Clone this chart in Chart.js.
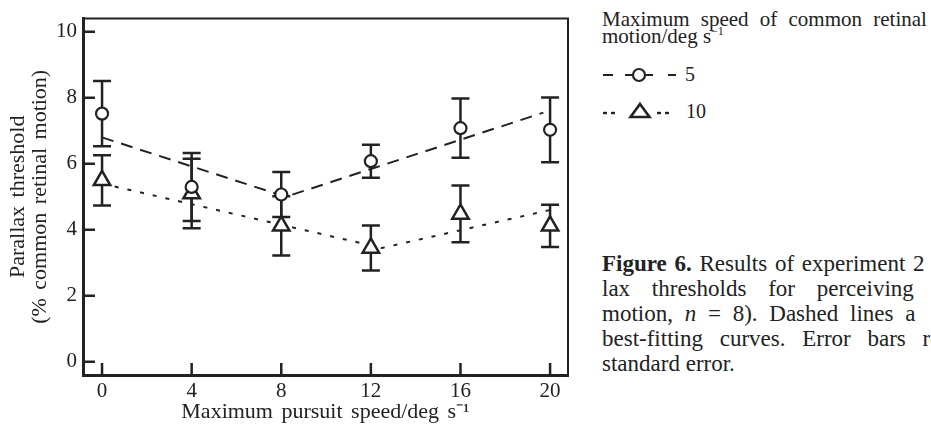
<!DOCTYPE html>
<html>
<head>
<meta charset="utf-8">
<script src="https://cdn.jsdelivr.net/npm/chart.js@4.4.1/dist/chart.umd.min.js"></script>
<style>
  html, body { margin: 0; padding: 0; background: #fff; width: 931px; height: 424px; overflow: hidden; }
  #wrap { position: absolute; left: 0; top: 0; width: 590px; height: 424px; }
  .txt { position: absolute; font-family: "Liberation Serif", "Times New Roman", serif; color: #222; white-space: nowrap; }
  .txt sup { font-size: 12px; vertical-align: 8px; line-height: 0; }
  .cap { left: 602px; font-size: 23px; line-height: 25px; }
</style>
</head>
<body>
<div id="wrap"><canvas id="myChart" width="590" height="424"></canvas></div>

<!-- legend -->
<div class="txt" style="left:602px; top:11px; font-size:21px; line-height:17px;">
  <span style="word-spacing:6px">Maximum speed of common retinal</span><br>motion/deg s<sup>&minus;1</sup>
</div>
<svg style="position:absolute; left:600px; top:65px;" width="82" height="20">
  <line x1="3" y1="10" x2="77" y2="10" stroke="#222" stroke-width="2.2" stroke-dasharray="10 12 28 15 8"/>
  <circle cx="39" cy="10" r="6" fill="#fff" stroke="#222" stroke-width="2.2"/>
</svg>
<div class="txt" style="left:685px; top:63px; font-size:20px; line-height:22px;">5</div>
<svg style="position:absolute; left:600px; top:100px;" width="82" height="22">
  <g stroke="#222" stroke-width="2.4">
    <line x1="3" y1="13" x2="7" y2="13"/>
    <line x1="11" y1="13" x2="15" y2="13"/>
    <line x1="57" y1="13" x2="61" y2="13"/>
    <line x1="65" y1="13" x2="69" y2="13"/>
  </g>
  <polygon points="40,4 49.5,17 30.5,17" fill="#fff" stroke="#222" stroke-width="2.6" stroke-linejoin="miter"/>
</svg>
<div class="txt" style="left:686px; top:100px; font-size:20px; line-height:22px;">10</div>

<!-- caption -->
<div class="txt cap" style="top:251px; word-spacing:2px;"><b>Figure 6.</b> Results of experiment 2</div>
<div class="txt cap" style="top:276px; word-spacing:16px;">lax thresholds for perceiving r</div>
<div class="txt cap" style="top:301px; word-spacing:6px;">motion, <i>n</i> = 8). Dashed lines a</div>
<div class="txt cap" style="top:326px; word-spacing:11px;">best-fitting curves. Error bars re</div>
<div class="txt cap" style="top:351px;">standard error.</div>

<script>
// Data-----
const speeds = [0, 4, 8, 12, 16, 20];
const thr5 = [7.52, 5.3, 5.07, 6.08, 7.08, 7.03];
const err5 = [0.99, 1.03, 0.68, 0.5, 0.9, 0.98];
const thr10 = [5.5, 5.1, 4.12, 3.45, 4.48, 4.12];
const err10 = [0.76, 1.05, 0.9, 0.68, 0.86, 0.64];
const fit5X = [0, 8.2, 19.7];
const fit5Y = [6.8, 5.0, 7.55];
const fit10X = [0, 12.5, 20];
const fit10Y = [5.4, 3.45, 4.6];
const xTicks = [0, 4, 8, 12, 16, 20];
const yTicks = [0, 2, 4, 6, 8, 10];
// Data-----

const ink = '#222';
const serif = '"Liberation Serif", "Times New Roman", serif';
const pts = (xs, ys) => xs.map((x, i) => ({x: x, y: ys[i]}));

// error bars, drawn under the markers
const errorBars = {
    id: 'errorBars',
    beforeDraw(chart) {
        chart.ctx.wordSpacing = '3px'; // titles are set with loose spacing
    },
    beforeDatasetsDraw(chart) {
        const {ctx, scales: {x, y}} = chart;
        ctx.save();
        ctx.strokeStyle = ink;
        ctx.lineWidth = 2.5;
        chart.data.datasets.forEach(ds => {
            if (!ds.errs) return;
            ds.data.forEach((p, j) => {
                const px = x.getPixelForValue(p.x);
                const hi = y.getPixelForValue(p.y + ds.errs[j]);
                const lo = y.getPixelForValue(p.y - ds.errs[j]);
                ctx.beginPath();
                ctx.moveTo(px, hi); ctx.lineTo(px, lo);
                ctx.moveTo(px - 9, hi); ctx.lineTo(px + 9, hi);
                ctx.moveTo(px - 9, lo); ctx.lineTo(px + 9, lo);
                ctx.stroke();
            });
        });
        ctx.restore();
    }
};

// box frame and inward tick marks
const frame = {
    id: 'frame',
    afterDraw(chart) {
        const {ctx, chartArea: a, scales: {x, y}} = chart;
        ctx.save();
        ctx.strokeStyle = ink;
        ctx.lineWidth = 2;
        ctx.beginPath();
        ctx.moveTo(a.left, a.top); ctx.lineTo(a.right, a.top); ctx.lineTo(a.right, a.bottom);
        ctx.stroke();
        ctx.lineWidth = 2.5;
        ctx.beginPath();
        yTicks.forEach(v => {
            const py = y.getPixelForValue(v);
            ctx.moveTo(a.left, py); ctx.lineTo(a.left + 12, py);
        });
        xTicks.forEach(v => {
            const px = x.getPixelForValue(v);
            ctx.moveTo(px, a.bottom); ctx.lineTo(px, a.bottom - 12);
        });
        ctx.stroke();
        ctx.restore();
    }
};

// Config-----
const config = {
    type: 'scatter',
    data: {
        datasets: [{
            label: '5',
            data: pts(speeds, thr5),
            errs: err5,
            pointStyle: 'circle',
            pointRadius: 6,
            borderColor: ink,
            backgroundColor: '#fff',
            borderWidth: 2.2,
            order: 0
        }, {
            label: '10',
            data: pts(speeds, thr10),
            errs: err10,
            pointStyle: 'triangle',
            pointRadius: 9.5,
            borderColor: ink,
            backgroundColor: '#fff',
            borderWidth: 2.5,
            order: 0
        }, {
            type: 'line',
            label: 'fit 5',
            data: pts(fit5X, fit5Y),
            borderColor: ink,
            borderWidth: 2,
            borderDash: [12, 8],
            pointRadius: 0,
            fill: false,
            order: 1
        }, {
            type: 'line',
            label: 'fit 10',
            data: pts(fit10X, fit10Y),
            borderColor: ink,
            borderWidth: 2,
            borderDash: [4, 9],
            pointRadius: 0,
            fill: false,
            order: 1
        }]
    },
    options: {
        responsive: false,
        animation: false,
        devicePixelRatio: 1,
        layout: {padding: {top: 12, right: 22, left: 0, bottom: 0}},
        plugins: {legend: {display: false}, tooltip: {enabled: false}},
        scales: {
            x: {
                type: 'linear',
                min: -0.85,
                max: 20.8,
                afterBuildTicks: s => { s.ticks = xTicks.map(v => ({value: v})); },
                afterFit: s => { s.height = 49; },
                grid: {display: false, drawTicks: false},
                border: {color: ink, width: 3},
                ticks: {color: ink, padding: 4, font: {family: serif, size: 21}},
                title: {
                    display: true,
                    text: 'Maximum pursuit speed/deg s\u207B\u00B9',
                    color: ink,
                    padding: {top: 0, bottom: 0},
                    font: {family: serif, size: 22, lineHeight: 1.1}
                }
            },
            y: {
                type: 'linear',
                min: -0.4,
                max: 10.4,
                afterBuildTicks: s => { s.ticks = yTicks.map(v => ({value: v})); },
                afterFit: s => { s.width = 83; },
                grid: {display: false, drawTicks: false},
                border: {color: ink, width: 3},
                ticks: {color: ink, padding: 6, font: {family: serif, size: 21}},
                title: {
                    display: true,
                    text: ['Parallax threshold', '(% common retinal motion)'],
                    color: ink,
                    padding: {top: 7, bottom: 0},
                    font: {family: serif, size: 22, lineHeight: 1.0}
                }
            }
        }
    },
    plugins: [errorBars, frame]
};
// Config-----

var myChart = new Chart(
    document.getElementById('myChart'),
    config
);
</script>
</body>
</html>
